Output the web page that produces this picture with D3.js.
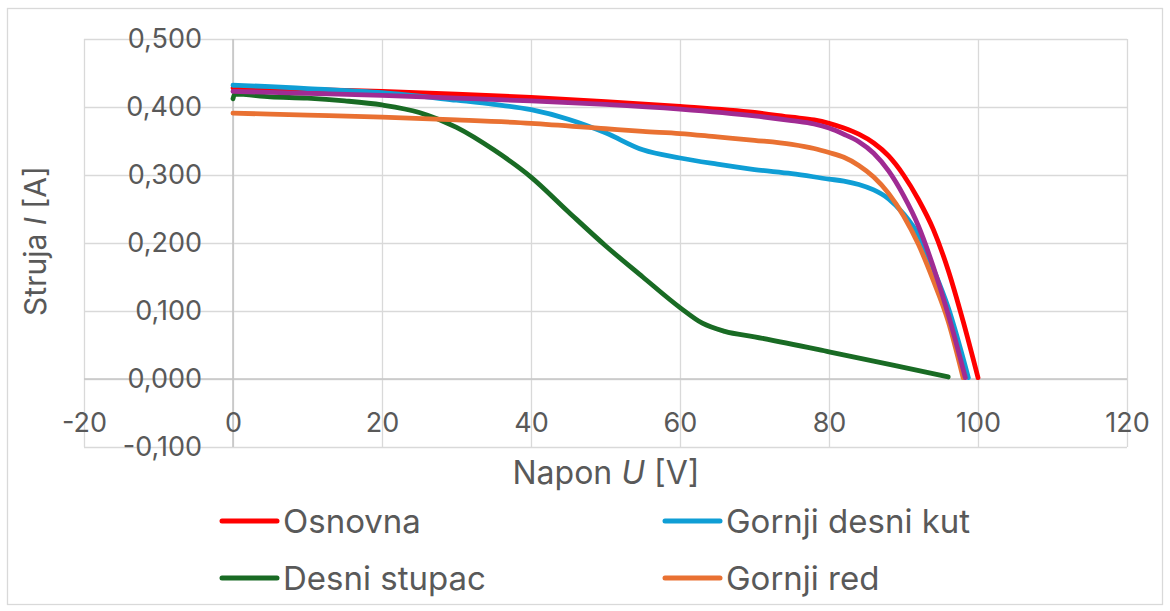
<!DOCTYPE html>
<html lang="hr">
<head>
<meta charset="UTF-8">
<title>Struja - napon</title>
<script src="https://d3js.org/d3.v7.min.js"></script>
<style>
    body { margin: 0; background: #fff; }
    svg { display: block; font-family: Inter, "Open Sans", sans-serif; }
    .grid line { stroke: #d9d9d9; stroke-width: 1.3; }
    .grid path { display: none; }
    .zero { stroke: #c6c6c6; stroke-width: 1.6; }
    .tick-labels path, .tick-labels line { display: none; }
    .tick-labels text { fill: #595959; font-size: 27px; font-family: Inter, sans-serif; }
    .title { fill: #595959; }
    .series { fill: none; stroke-width: 4.8; stroke-linejoin: round; stroke-linecap: round; }
    .legend text { fill: #595959; font-size: 33px; }
</style>
</head>
<body>
<svg id="chart" width="1170" height="611"></svg>
<script>
// U [V], I [A]
const osnovna = [[0,0.428],[10,0.426],[20,0.423],[30,0.419],[40,0.414],[50,0.408],[60,0.401],[70,0.392],[75,0.385],[78,0.381],[80,0.376],[82,0.369],[84,0.360],[86,0.347],[88,0.328],[90,0.300],[92,0.264],[94,0.220],[96,0.160],[98,0.085],[100,0.002]];
const gornjiDesniKut = [[0,0.432],[5,0.430],[10,0.427],[20,0.421],[30,0.410],[35,0.404],[40,0.396],[45,0.382],[50,0.362],[55,0.337],[60,0.325],[65,0.316],[70,0.308],[75,0.302],[80,0.294],[82,0.291],[84,0.286],[86,0.278],[88,0.265],[90,0.243],[92,0.212],[94,0.162],[96,0.105],[98.7,0.002]];
const desniStupac = [[0,0.412],[0.2,0.419],[5,0.415],[10,0.413],[15,0.409],[20,0.403],[25,0.392],[30,0.370],[35,0.337],[40,0.297],[45,0.246],[50,0.196],[55,0.150],[60,0.105],[63,0.082],[66,0.070],[70,0.062],[80,0.040],[90,0.017],[96,0.003]];
const gornjiRed = [[0,0.391],[10,0.388],[20,0.385],[30,0.381],[40,0.376],[50,0.368],[55,0.364],[60,0.361],[65,0.356],[70,0.351],[75,0.345],[78,0.339],[80,0.333],[82,0.326],[84,0.314],[86,0.297],[88,0.273],[90,0.240],[92,0.198],[94,0.145],[96,0.085],[98,0.002]];
const bezLegende = [[0,0.423],[10,0.420],[20,0.417],[30,0.413],[40,0.409],[50,0.404],[60,0.397],[70,0.387],[75,0.380],[78,0.375],[80,0.369],[82,0.360],[84,0.349],[86,0.332],[88,0.306],[90,0.270],[92,0.225],[94,0.165],[96,0.095],[98.3,0.002]];

const xTicks = [-20, 0, 20, 40, 60, 80, 100, 120];
const yTicks = [-0.1, 0, 0.1, 0.2, 0.3, 0.4, 0.5];

// drawing order follows the series order in the workbook
const series = [
    { name: "Osnovna", data: osnovna, color: "#ff0000", legend: [0, 0] },
    { name: "Gornji desni kut", data: gornjiDesniKut, color: "#0f9ed5", legend: [1, 0] },
    { name: "Desni stupac", data: desniStupac, color: "#196b24", legend: [0, 1] },
    { name: "Gornji red", data: gornjiRed, color: "#e97132", legend: [1, 1] },
    { name: "", data: bezLegende, color: "#a02b93", legend: null }
];

const svg = d3.select("#chart");
const plot = { left: 84, right: 1127, top: 39, bottom: 447 };

const x = d3.scaleLinear().domain([-20, 120]).range([plot.left, plot.right]);
const y = d3.scaleLinear().domain([-0.1, 0.5]).range([plot.bottom, plot.top]);

const hr = d3.formatLocale({ decimal: ",", thousands: ".", grouping: [3], currency: ["", " €"], minus: "-" });
const fmtY = hr.format(".3f");
const fmtX = hr.format("d");

// outer frame
svg.append("rect")
    .attr("x", 7.5).attr("y", 8.5)
    .attr("width", 1155).attr("height", 596)
    .attr("fill", "none").attr("stroke", "#d9d9d9").attr("stroke-width", 1.3);

// gridlines
svg.append("g").attr("class", "grid")
    .attr("transform", `translate(0,${plot.bottom})`)
    .call(d3.axisBottom(x).tickValues(xTicks).tickSize(-(plot.bottom - plot.top)).tickFormat(""));
svg.append("g").attr("class", "grid")
    .attr("transform", `translate(${plot.left},0)`)
    .call(d3.axisLeft(y).tickValues(yTicks).tickSize(-(plot.right - plot.left)).tickFormat(""));

// axis lines through zero
svg.append("line").attr("class", "zero")
    .attr("x1", plot.left).attr("x2", plot.right)
    .attr("y1", y(0)).attr("y2", y(0));
svg.append("line").attr("class", "zero")
    .attr("x1", x(0)).attr("x2", x(0))
    .attr("y1", plot.top).attr("y2", plot.bottom);

// tick labels
svg.append("g").attr("class", "tick-labels")
    .attr("transform", `translate(${x(0)},0)`)
    .call(d3.axisLeft(y).tickValues(yTicks).tickSize(0).tickPadding(31).tickFormat(fmtY));
svg.append("g").attr("class", "tick-labels")
    .attr("transform", `translate(0,${y(0)})`)
    .call(d3.axisBottom(x).tickValues(xTicks).tickSize(0).tickPadding(34).tickFormat(fmtX))
    .selectAll("text").attr("dy", "0.72em");

// axis titles
const xt = svg.append("text").attr("class", "title")
    .attr("x", 606).attr("y", 484)
    .attr("text-anchor", "middle").attr("font-size", 32);
xt.append("tspan").text("Napon ");
xt.append("tspan").attr("font-style", "italic").text("U");
xt.append("tspan").text(" [V]");

const yt = svg.append("text").attr("class", "title")
    .attr("transform", "translate(46,241) rotate(-90)")
    .attr("text-anchor", "middle").attr("font-size", 30);
yt.append("tspan").text("Struja ");
yt.append("tspan").attr("font-style", "italic").text("I");
yt.append("tspan").text(" [A]");

// curves
const line = d3.line()
    .x(d => x(d[0]))
    .y(d => y(d[1]))
    .curve(d3.curveMonotoneX);

svg.append("g").selectAll("path")
    .data(series)
    .join("path")
    .attr("class", "series")
    .attr("stroke", d => d.color)
    .attr("d", d => line(d.data));

// legend
const legCols = [222, 665];
const legRows = [521, 578];
const leg = svg.append("g").attr("class", "legend")
    .selectAll("g")
    .data(series.filter(s => s.legend))
    .join("g")
    .attr("transform", d => `translate(${legCols[d.legend[0]]},${legRows[d.legend[1]]})`);
leg.append("line")
    .attr("x1", 0).attr("x2", 55)
    .attr("stroke", d => d.color).attr("stroke-width", 5).attr("stroke-linecap", "round");
leg.append("text")
    .attr("x", 61).attr("y", 12)
    .text(d => d.name);
</script>
</body>
</html>
